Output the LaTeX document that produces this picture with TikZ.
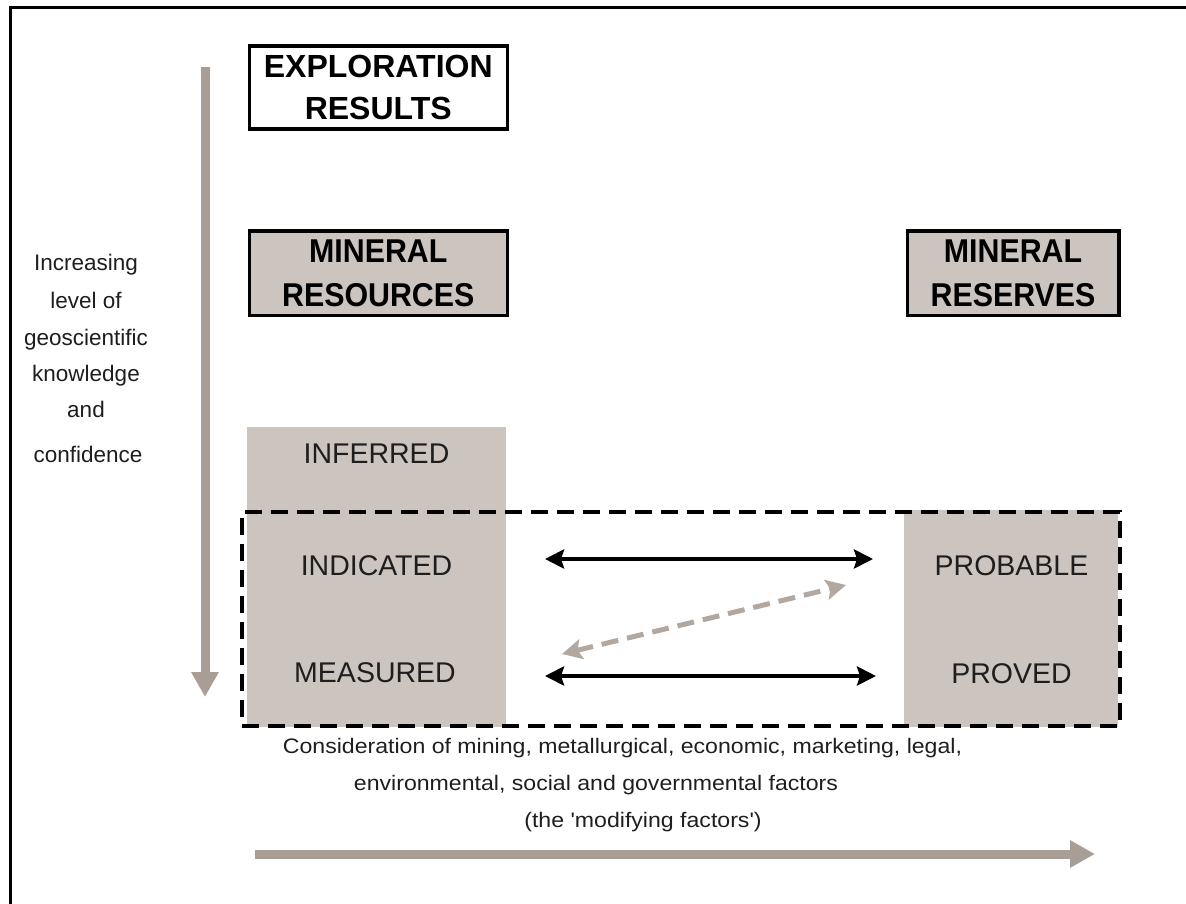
\documentclass[tikz,border=0pt]{standalone}
\usepackage{fontspec}
\setmainfont{Liberation Sans}
\newfontfamily\widesans[FakeStretch=1.1]{Liberation Sans}
\newfontfamily\narrowsans[FakeStretch=0.92]{Liberation Sans}
\usetikzlibrary{arrows.meta}
\definecolor{boxgray}{RGB}{203,196,191}
\definecolor{arrowgray}{RGB}{168,158,150}
\definecolor{dashgray}{RGB}{178,168,160}
\definecolor{inktext}{RGB}{30,30,30}
\begin{document}
\begin{tikzpicture}[x=1pt,y=-1pt,
  titlebox/.style={draw=black, line width=3.5pt, inner sep=0pt, align=center, anchor=north west},
  grayzone/.style={fill=boxgray, draw=none, inner sep=0pt, anchor=north west},
  framebox/.style={draw=black, line width=4pt, dash pattern=on 17pt off 9pt, inner sep=0pt, anchor=north west},
  level/.style={anchor=base, font=\fontsize{28.5}{34}\selectfont, text=inktext, inner sep=0pt},
  sidetext/.style={anchor=base, font=\fontsize{22.5}{26}\selectfont, text=inktext, inner sep=0pt},
  foottext/.style={anchor=base, font=\widesans\fontsize{21}{26}\selectfont, text=inktext, inner sep=0pt},
  bigarrow/.style={draw=arrowgray, line width=9pt, -{Triangle[width=26pt,length=25pt]}},
  linkarrow/.style={draw=black, line width=4.5pt, {Stealth[length=19pt,width=19pt,inset=3pt]}-{Stealth[length=19pt,width=19pt,inset=3pt]}},
  convarrow/.style={draw=dashgray, line width=5pt, dash pattern=on 17pt off 9pt, {Stealth[length=20pt,width=20pt,inset=4pt]}-{Stealth[length=20pt,width=20pt,inset=4pt]}}
]
\useasboundingbox (0,0) rectangle (1186,904);
% outer frame (only top and left edges visible)
\draw[line width=3pt] (1190,8) -- (10,8) -- (10,910);

% gray zones
\node[grayzone, minimum width=259pt, minimum height=300pt] (reszone) at (247,427) {};
\node[grayzone, minimum width=214pt, minimum height=217pt] (reszone2) at (904,510) {};

% dashed frame
\node[framebox, minimum width=878pt, minimum height=214pt] (frame) at (240,510) {};

% title boxes
\node[titlebox, fill=white, minimum width=258pt, minimum height=83pt,
      font=\fontsize{32}{42}\selectfont\bfseries] (expl) at (247.5,44.5) {EXPLORATION\\RESULTS};
\node[titlebox, fill=boxgray, minimum width=258pt, minimum height=84pt,
      font=\narrowsans\fontsize{33}{44}\selectfont\bfseries] (mres) at (247.5,229.5) {MINERAL\\RESOURCES};
\node[titlebox, fill=boxgray, minimum width=211.5pt, minimum height=84pt,
      font=\narrowsans\fontsize{33}{44}\selectfont\bfseries] (mrsv) at (905.5,229.5) {MINERAL\\RESERVES};

% level labels
\node[level] (inf) at (376.5,463) {INFERRED};
\node[level] (ind) at (376.5,575) {INDICATED};
\node[level] (mea) at (375,682) {MEASURED};
\node[level] (prb) at (1011.5,575) {PROBABLE};
\node[level] (prv) at (1011.5,683) {PROVED};

% side text
\node[sidetext] (s1) at (86,270) {Increasing};
\node[sidetext] (s2) at (86,308) {level of};
\node[sidetext] (s3) at (86,345) {geoscientific};
\node[sidetext] (s4) at (86,381) {knowledge};
\node[sidetext] (s5) at (86,417) {and};
\node[sidetext] (s6) at (88,462) {confidence};

% footer text
\node[foottext] (f1) at (622.5,753) {Consideration of mining, metallurgical, economic, marketing, legal,};
\node[foottext] (f2) at (596,790) {environmental, social and governmental factors};
\node[foottext] (f3) at (643,827) {(the 'modifying factors')};

% big gray arrows
\coordinate (vtop) at (205,67);
\coordinate (vtip) at (205,697);
\draw[bigarrow] (vtop) -- (vtip);
\coordinate (htail) at (255,854);
\coordinate (htip) at (1095,854);
\draw[bigarrow] (htail) -- (htip);

% conversion arrows
\coordinate (indR) at (545,559);
\coordinate (prbL) at (873,559);
\draw[linkarrow] (indR) -- (prbL);
\coordinate (meaR) at (545,676);
\coordinate (prvL) at (876,676);
\draw[linkarrow] (meaR) -- (prvL);
\coordinate (dgA) at (562,654);
\coordinate (dgB) at (846,585);
\draw[convarrow] (dgA) -- (dgB);
\end{tikzpicture}
\end{document}
